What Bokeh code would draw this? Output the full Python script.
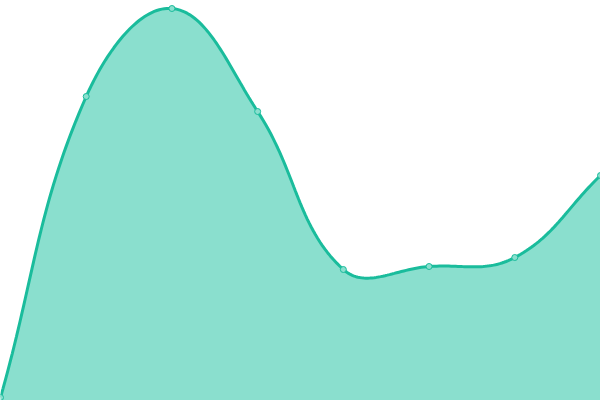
import numpy as np
from bokeh.plotting import figure
from bokeh.models import Range1d
from bokeh.embed import file_html
from bokeh.resources import INLINE

# data (chart units 0..400)
labels = ["0", "1", "2", "3", "4", "5", "6", "7"]
values = [3, 304, 392, 289, 131, 134, 143, 225]

W, H = 600, 400
n = len(values)
xs = np.arange(n, dtype=float)
ys = np.array(values, dtype=float)

# Chart.js style spline (tension 0.4), computed in pixel space
sx = W / (n - 1)
px = xs * sx
py = ys.copy()
t = 0.4
cp_prev = []
cp_next = []
for i in range(n):
    pp = (px[max(i - 1, 0)], py[max(i - 1, 0)])
    cp = (px[i], py[i])
    nx = (px[min(i + 1, n - 1)], py[min(i + 1, n - 1)])
    d01 = np.hypot(cp[0] - pp[0], cp[1] - pp[1])
    d12 = np.hypot(nx[0] - cp[0], nx[1] - cp[1])
    tot = d01 + d12
    s01 = d01 / tot if tot else 0
    s12 = d12 / tot if tot else 0
    fa, fb = t * s01, t * s12
    cp_prev.append((cp[0] - fa * (nx[0] - pp[0]), min(max(cp[1] - fa * (nx[1] - pp[1]), 0), H)))
    cp_next.append((cp[0] + fb * (nx[0] - pp[0]), min(max(cp[1] + fb * (nx[1] - pp[1]), 0), H)))

cx, cy = [], []
tt = np.linspace(0, 1, 40)
for i in range(n - 1):
    p0 = np.array([px[i], py[i]])
    p1 = np.array(cp_next[i])
    p2 = np.array(cp_prev[i + 1])
    p3 = np.array([px[i + 1], py[i + 1]])
    for u in tt[:-1] if i < n - 2 else tt:
        b = (1 - u) ** 3 * p0 + 3 * (1 - u) ** 2 * u * p1 + 3 * (1 - u) * u ** 2 * p2 + u ** 3 * p3
        cx.append(b[0] / sx)
        cy.append(b[1])

p = figure(width=W, height=H, output_backend="svg", toolbar_location=None,
           x_range=Range1d(0, n - 1), y_range=Range1d(0, H), min_border=0)
p.axis.visible = False
p.grid.visible = False
p.outline_line_color = None
p.background_fill_color = "white"
p.border_fill_color = "white"

p.varea(x=cx, y1=[0] * len(cy), y2=cy, fill_color="#8adfce", fill_alpha=1.0)
p.line(x=cx, y=cy, line_color="#1abc9c", line_width=3)
p.scatter(x=xs, y=ys, size=6, fill_color="#8adfce", line_color="#1abc9c", line_width=1)

html = file_html(p, INLINE)
html = html.replace("<head>", "<head><style>html,body{margin:0;padding:0;overflow:hidden}</style>", 1)
open("out.html", "w").write(html)
